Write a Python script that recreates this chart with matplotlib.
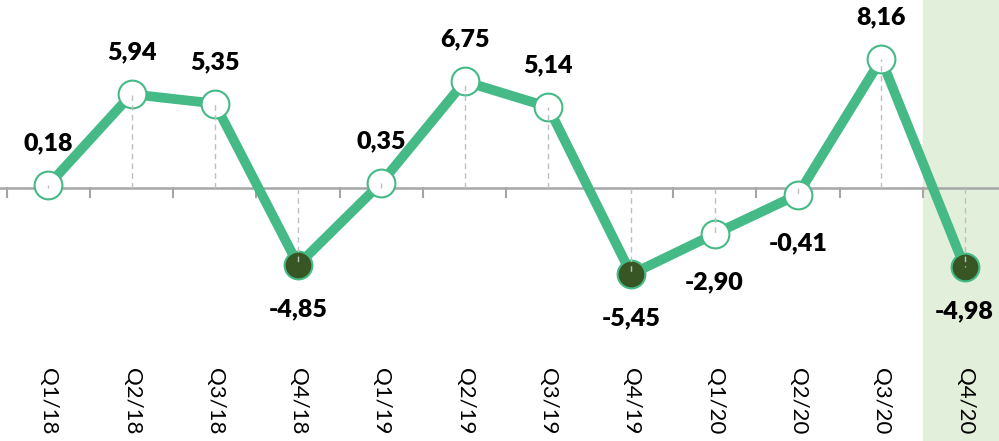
import matplotlib.pyplot as plt
import numpy as np

quarters = ["Q1/18", "Q2/18", "Q3/18", "Q4/18", "Q1/19", "Q2/19",
            "Q3/19", "Q4/19", "Q1/20", "Q2/20", "Q3/20", "Q4/20"]
values = [0.18, 5.94, 5.35, -4.85, 0.35, 6.75, 5.14, -5.45, -2.90, -0.41, 8.16, -4.98]
dark_points = [3, 7, 11]
highlight = 11

green = "#45BA86"
dark = "#375623"

plt.rcParams['font.family'] = ['Lato', 'DejaVu Sans']

fig = plt.figure(figsize=(9.99, 4.41), dpi=100)
ax = fig.add_axes([0, 0, 1, 1])
x = np.arange(len(values))

ax.set_xlim(-0.579, 11.414)
ax.set_ylim(-16.0, 11.9)
ax.axis('off')

# highlighted last quarter
ax.axvspan(highlight - 0.5, 12, color="#E2EFDA", zorder=0)

# zero axis with boundary ticks
ax.axhline(0, color="#A6A6A6", lw=1.8, zorder=1)
for b in np.arange(-0.5, len(values) - 0.4, 1):
    ax.plot([b, b], [0, -0.55], color="#A6A6A6", lw=1.5, zorder=1)

ax.plot(x, values, color=green, lw=7, zorder=2, solid_capstyle='round')

for i, v in enumerate(values):
    face = dark if i in dark_points else "white"
    ax.plot(x[i], v, 'o', ms=20, mfc=face, mec=green, mew=1.5, zorder=3)
    ax.plot([x[i], x[i]], [0, v], color="#BFBFBF", lw=1, ls=(0, (4, 3)), zorder=4)
    off = 30 if v > 0 else -32
    if i in (8, 9):
        off = -35
    ax.annotate(f"{v:.2f}".replace(".", ","), (x[i], v), xytext=(0, off),
                textcoords="offset points", ha="center", va="center",
                fontsize=18, fontweight="heavy", color="black", zorder=5)
    ax.text(x[i], -11.4, quarters[i], rotation=-90, ha="center", va="top",
            fontsize=16, color="black")

plt.savefig("out.png", dpi=100)
